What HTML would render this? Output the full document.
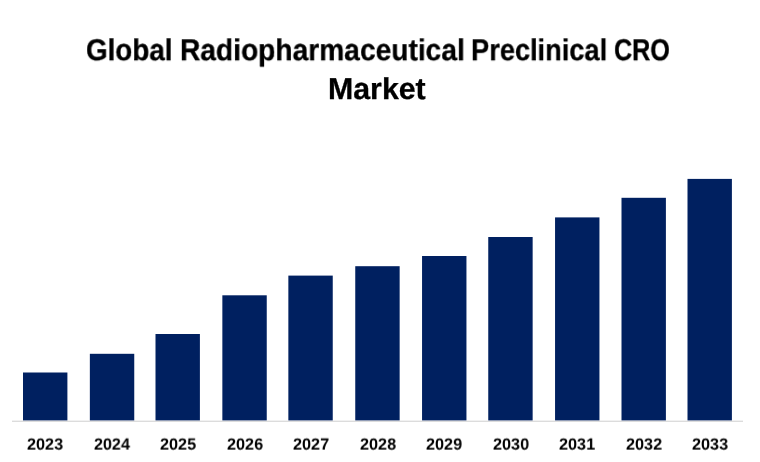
<!DOCTYPE html>
<html><head><meta charset="utf-8">
<style>
html,body{margin:0;padding:0;background:#fff;}
body{width:760px;height:462px;position:relative;overflow:hidden;font-family:"Liberation Sans",sans-serif;text-rendering:geometricPrecision;}
.chart{position:absolute;left:0;top:0;}
.w.lab{-webkit-text-stroke:0.0px #000;}
.w{position:absolute;font-weight:bold;line-height:1.2;color:#000;white-space:nowrap;transform-origin:0 0;will-change:transform;-webkit-text-stroke:0.3px #000;}
</style></head><body>
<div id="g" class="w" style="left:85.60px;top:33px;font-size:30.2px;transform:translateY(0.15px) scaleX(0.9214)">Global</div>
<div id="r" class="w" style="left:180.45px;top:33px;font-size:30.2px;transform:translateY(0.15px) scaleX(0.9326)">Radiopharmaceutical</div>
<div id="p" class="w" style="left:470.50px;top:33px;font-size:30.2px;transform:translateY(0.15px) scaleX(0.9016)">Preclinical</div>
<div id="c" class="w" style="left:613.52px;top:33px;font-size:30.2px;transform:translateY(0.15px) scaleX(0.8338)">CRO</div>
<div id="m" class="w" style="left:327.92px;top:71px;font-size:30.2px;transform:translateY(0.55px) scaleX(1.0040)">Market</div>
<svg class="chart" width="760" height="462" viewBox="0 0 760 462"><rect x="12" y="420.6" width="731" height="1.4" fill="#dcdcdc"/><g fill="#002060"><rect x="23.00" y="372.50" width="44.40" height="47.90"/><rect x="89.85" y="353.80" width="44.40" height="66.60"/><rect x="155.50" y="334.00" width="44.40" height="86.40"/><rect x="222.35" y="295.30" width="44.40" height="125.10"/><rect x="288.35" y="275.60" width="44.40" height="144.80"/><rect x="355.25" y="266.20" width="44.40" height="154.20"/><rect x="422.05" y="256.00" width="44.40" height="164.40"/><rect x="488.25" y="237.00" width="44.40" height="183.40"/><rect x="555.05" y="217.40" width="44.40" height="203.00"/><rect x="621.50" y="197.80" width="44.40" height="222.60"/><rect x="687.50" y="178.90" width="44.40" height="241.50"/></g></svg>
<div id="y0" class="w lab" style="left:27.13px;top:435px;font-size:16.3px;transform:translateY(0.60px) scaleX(0.9963)">2023</div>
<div id="y1" class="w lab" style="left:93.83px;top:435px;font-size:16.3px;transform:translateY(0.60px) scaleX(0.9902)">2024</div>
<div id="y2" class="w lab" style="left:160.13px;top:435px;font-size:16.3px;transform:translateY(0.60px) scaleX(0.9963)">2025</div>
<div id="y3" class="w lab" style="left:226.82px;top:435px;font-size:16.3px;transform:translateY(0.60px) scaleX(0.9963)">2026</div>
<div id="y4" class="w lab" style="left:292.82px;top:435px;font-size:16.3px;transform:translateY(0.60px) scaleX(0.9963)">2027</div>
<div id="y5" class="w lab" style="left:359.63px;top:435px;font-size:16.3px;transform:translateY(0.60px) scaleX(0.9963)">2028</div>
<div id="y6" class="w lab" style="left:426.22px;top:435px;font-size:16.3px;transform:translateY(0.60px) scaleX(0.9963)">2029</div>
<div id="y7" class="w lab" style="left:492.63px;top:435px;font-size:16.3px;transform:translateY(0.60px) scaleX(0.9963)">2030</div>
<div id="y8" class="w lab" style="left:559.22px;top:435px;font-size:16.3px;transform:translateY(0.60px) scaleX(0.9963)">2031</div>
<div id="y9" class="w lab" style="left:626.13px;top:435px;font-size:16.3px;transform:translateY(0.60px) scaleX(0.9963)">2032</div>
<div id="y10" class="w lab" style="left:692.13px;top:435px;font-size:16.3px;transform:translateY(0.60px) scaleX(0.9963)">2033</div>
</body></html>
